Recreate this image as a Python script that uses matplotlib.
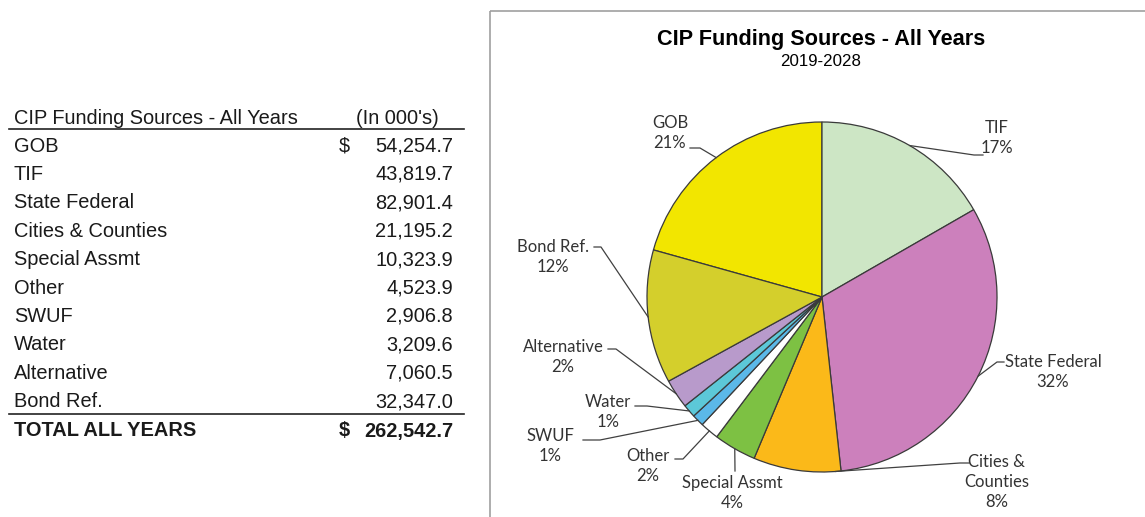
"""
CIP funding sources table and pie chart
"""

import numpy as np
import matplotlib.pyplot as plt
from matplotlib.patches import Rectangle

# data
sources = ['GOB', 'TIF', 'State Federal', 'Cities & Counties', 'Special Assmt',
           'Other', 'SWUF', 'Water', 'Alternative', 'Bond Ref.']
amounts = [54254.7, 43819.7, 82901.4, 21195.2, 10323.9,
           4523.9, 2906.8, 3209.6, 7060.5, 32347.0]
pie_labels = ['GOB', 'TIF', 'State Federal', 'Cities &\nCounties', 'Special Assmt',
              'Other', 'SWUF', 'Water', 'Alternative', 'Bond Ref.']
# percentages as printed on the chart
pct_labels = ['21%', '17%', '32%', '8%', '4%', '2%', '1%', '1%', '2%', '12%']
colors = ['#F2E600', '#CDE6C5', '#CC80BC', '#FBB919', '#7DC143',
          '#FFFFFF', '#5BB8E8', '#5CC8D8', '#B89ACB', '#D4CF2C']

W, H = 1145, 517
CX, CY, R = 822, 297, 175  # pie centre / radius in pixels


def main():
    fig = plt.figure(figsize=(W / 100, H / 100), dpi=100)

    # canvas in pixel coordinates for the table and frame
    cv = fig.add_axes([0, 0, 1, 1])
    cv.set_xlim(0, W)
    cv.set_ylim(H, 0)
    cv.axis('off')

    draw_table(cv)

    cv.add_patch(Rectangle((490, 11), 700, 600, fill=False,
                           edgecolor='#A0A0A0', lw=1.2))
    cv.text(821, 39, 'CIP Funding Sources - All Years', ha='center',
            va='center', fontsize=15.6, fontweight='bold',
            family='Liberation Sans')
    cv.text(821, 61, '2019-2028', ha='center', va='center', fontsize=12.2,
            family='Liberation Sans')

    draw_pie(fig)

    fig.savefig('out.png', dpi=100)


def draw_table(cv):
    font = dict(family='Liberation Sans', fontsize=14.4, color='#1A1A1A',
                va='center')
    cv.text(14, 118, 'CIP Funding Sources - All Years', ha='left', **font)
    cv.text(397, 118, "(In 000's)", ha='center', **font)
    cv.plot([9, 464], [129, 129], color='#222222', lw=1.2)

    y0, dy = 146, 28.4
    for i, (name, val) in enumerate(zip(sources, amounts)):
        y = y0 + i * dy
        cv.text(14, y, name, ha='left', **font)
        cv.text(453, y, f'{val:,.1f}', ha='right', **font)
        if i == 0:
            cv.text(339, y, '$', ha='left', **font)

    cv.plot([9, 464], [414, 414], color='#222222', lw=1.2)
    bold = dict(font, fontweight='bold')
    cv.text(14, 431, 'TOTAL ALL YEARS', ha='left', **bold)
    cv.text(339, 431, '$', ha='left', **bold)
    cv.text(453, 431, f'{sum(amounts):,.1f}', ha='right', **bold)


def draw_pie(fig):
    # axes whose data units equal pie radii, centred on the pie
    ax = fig.add_axes([490 / W, 0, 1 - 490 / W, 1])

    frac = np.array(amounts) / sum(amounts)
    start = 90 + frac[0] * 360
    ax.pie(amounts, colors=colors, startangle=start, counterclock=False,
           radius=1, center=(0, 0), frame=True,
           wedgeprops=dict(edgecolor='#3A3A3A', linewidth=0.9))
    ax.set_xlim((490 - CX) / R, (W - CX) / R)
    ax.set_ylim((CY - H) / R, CY / R)
    ax.set_aspect('equal')
    ax.axis('off')

    def p(x, y):
        return (x - CX) / R, (CY - y) / R

    # label layout in pixels: text centre, line start, elbow, anchor position in wedge
    layout = [
        ((670, 133), (690, 148), (700, 148), 0.5),
        ((997, 138), (983, 155), (974, 155), 0.5),
        ((1053, 372), (1004, 362), (997, 362), 0.5),
        ((997, 482), (969, 463), (960, 463), 0.06),
        ((732, 493), (735, 471), (735, 471), 0.5),
        ((648, 466), (675, 459), (683, 459), 0.5),
        ((550, 446), (583, 440), (600, 440), 0.5),
        ((608, 412), (635, 406), (647, 406), 0.5),
        ((563, 357), (608, 349), (616, 349), 0.5),
        ((553, 257), (594, 247), (601, 247), 0.5),
    ]
    cum = np.concatenate([[0], np.cumsum(frac)])
    for i, (txt_pos, s, e, where) in enumerate(layout):
        ang = np.deg2rad(start - 360 * (cum[i] + where * frac[i]))
        anchor = (np.cos(ang), np.sin(ang))
        pts = [p(*s), p(*e), anchor]
        ax.plot([q[0] for q in pts], [q[1] for q in pts], color='#404040',
                lw=0.9, clip_on=False)
        ax.text(*p(*txt_pos), f'{pie_labels[i]}\n{pct_labels[i]}',
                ha='center', va='center', fontsize=12, family='Lato',
                color='#333333', linespacing=1.3)


if __name__ == "__main__":
    main()
